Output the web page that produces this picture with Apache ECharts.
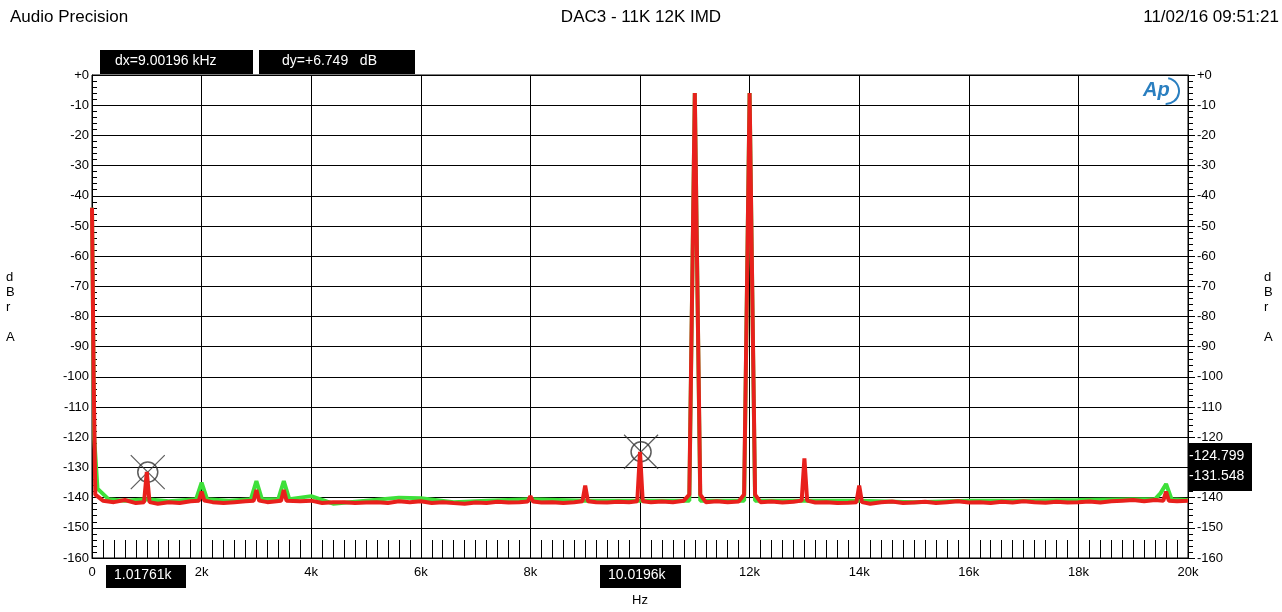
<!DOCTYPE html>
<html>
<head>
<meta charset="utf-8">
<script src="https://cdn.jsdelivr.net/npm/echarts@6/dist/echarts.min.js"></script>
<style>
    html, body { margin: 0; padding: 0; background: #fff; }
    #app { width: 1282px; height: 612px; }
</style>
</head>
<body>
<div id="app"></div>
<script>
// 频率 (kHz) 与电平 (dBr A) —— 红色通道
const redFreq = [0, 0.03, 0.06, 0.2, 0.4, 0.6, 0.8, 0.95, 1.0, 1.05, 1.2, 1.4, 1.6, 1.8, 1.95, 2.0, 2.05, 2.2, 2.4, 2.6, 2.8, 2.95, 3.0, 3.05, 3.2, 3.45, 3.5, 3.55, 3.8, 4.0, 4.2, 4.4, 4.6, 4.8, 5.0, 5.2, 5.4, 5.6, 5.8, 6.0, 6.2, 6.4, 6.6, 6.8, 7.0, 7.2, 7.4, 7.6, 7.8, 7.95, 8.0, 8.05, 8.2, 8.4, 8.6, 8.8, 8.95, 9.0, 9.05, 9.2, 9.4, 9.6, 9.8, 9.95, 10.0, 10.05, 10.2, 10.4, 10.6, 10.8, 10.9, 10.96, 11.0, 11.04, 11.1, 11.2, 11.4, 11.6, 11.8, 11.9, 11.96, 12.0, 12.04, 12.1, 12.2, 12.4, 12.6, 12.8, 12.95, 13.0, 13.05, 13.2, 13.4, 13.6, 13.8, 13.95, 14.0, 14.05, 14.2, 14.4, 14.6, 14.8, 15.0, 15.2, 15.4, 15.6, 15.8, 16.0, 16.2, 16.4, 16.6, 16.8, 17.0, 17.2, 17.4, 17.6, 17.8, 18.0, 18.2, 18.4, 18.6, 18.8, 19.0, 19.2, 19.4, 19.55, 19.6, 19.65, 19.8, 20.0];
const redLevel = [-44, -100, -139, -141, -141.5, -140.8, -141.8, -141.5, -131.5, -141.5, -142, -141.5, -141.8, -141.2, -141, -138, -141, -141.5, -141.8, -141.5, -141.2, -141, -137.5, -141, -141.5, -141, -137.5, -141, -141.2, -141, -141.8, -141.5, -141.5, -141.8, -141.6, -141.5, -141.8, -141.2, -141.5, -141.2, -141.8, -141.5, -141.8, -142, -141.6, -141.8, -141.4, -141.6, -141.5, -141.3, -139.5, -141.3, -141.6, -141.5, -141.8, -141.5, -141.2, -136, -141.2, -141.5, -141.6, -141.4, -141.5, -141.2, -124.8, -141.2, -141.5, -141.3, -141.5, -141, -139, -60, -6, -60, -139, -141.5, -141.2, -141.5, -141.3, -139, -60, -6, -60, -139, -141.5, -141.3, -141.6, -141.4, -141, -127, -141, -141.6, -141.5, -141.8, -141.7, -141.5, -136, -141.5, -142, -141.5, -141.3, -141.8, -141.6, -141.4, -141.8, -141.5, -141.2, -141.6, -141.5, -141.8, -141.4, -141.6, -141.2, -141.5, -141.7, -141.4, -141.6, -141.5, -141.3, -141.6, -141.2, -141, -140.8, -141.2, -140.8, -141, -138, -141, -141.2, -141];
// 绿色通道
const greenFreq = [0, 0.04, 0.1, 0.3, 0.6, 1.0, 1.4, 1.9, 2.0, 2.1, 2.5, 2.9, 3.0, 3.1, 3.4, 3.5, 3.6, 4.0, 4.4, 5.0, 5.6, 6.0, 6.6, 7.2, 8.0, 9.0, 10.0, 10.9, 11.0, 11.1, 11.9, 12.0, 12.1, 13.0, 14.0, 15.0, 16.0, 17.0, 18.0, 19.0, 19.4, 19.5, 19.6, 19.7, 20.0];
const greenLevel = [-44, -120, -137, -140.5, -141, -140.5, -141.2, -140.5, -135, -140.5, -141, -140.5, -134.5, -140.5, -140.5, -134.5, -140.5, -139.5, -142, -141, -140, -140.2, -141.5, -141, -140.5, -141, -141, -141, -6, -141, -141, -6, -141, -141, -141, -141.5, -141, -141, -140.8, -140.5, -140.5, -138.5, -135.5, -140.5, -140.8];
// 光标
const cursorFreq = [1.01761, 10.0196];
const cursorLevel = [-131.548, -124.799];

let draw = () => {
    let myChart = echarts.init(document.querySelector("#app"));
    let toPairs = (xs, ys) => xs.map((x, i) => [x, ys[i]]);
    let yLabel = v => (v === 0 ? "+0" : String(v));
    let font = "Liberation Sans, Arial, sans-serif";
    let yAxisBase = {
        type: "value", min: -160, max: 0, interval: 10,
        axisLine: { show: true, lineStyle: { color: "#000" } },
        axisTick: { show: true, inside: true, length: 7, lineStyle: { color: "#000" } },
        minorTick: { show: true, splitNumber: 5, length: 5, lineStyle: { color: "#000" } },
        axisLabel: { formatter: yLabel, color: "#000", fontSize: 13, fontFamily: font, margin: 3 }
    };
    myChart.setOption({
        animation: false,
        textStyle: { fontFamily: font },
        grid: { left: 92, right: 94, top: 75, bottom: 50, show: true, borderColor: "#000", borderWidth: 1 },
        xAxis: {
            type: "value", min: 0, max: 20, interval: 2,
            axisLine: { show: true, onZero: false, lineStyle: { color: "#000" } },
            axisTick: { show: true, inside: true, length: 18, lineStyle: { color: "#000" } },
            minorTick: { show: true, splitNumber: 10, length: 18, lineStyle: { color: "#000" } },
            splitLine: { show: true, lineStyle: { color: "#000", width: 1 } },
            axisLabel: { formatter: v => (v === 0 ? "0" : v + "k"), color: "#000", fontSize: 13, margin: 8 },
            name: "Hz", nameLocation: "middle", nameGap: 36, nameTextStyle: { color: "#000", fontSize: 13 }
        },
        yAxis: [
            Object.assign({}, yAxisBase, {
                position: "left",
                splitLine: { show: true, lineStyle: { color: "#000", width: 1 } }
            }),
            Object.assign({}, yAxisBase, {
                position: "right",
                splitLine: { show: false },
                axisTick: { show: true, inside: false, length: 7, lineStyle: { color: "#000" } },
                minorTick: { show: true, splitNumber: 5, length: 5, lineStyle: { color: "#000" } },
                axisLabel: { formatter: yLabel, color: "#000", fontSize: 13, fontFamily: font, margin: 9 }
            })
        ],
        series: [
            {
                name: "green", type: "line", showSymbol: false,
                data: toPairs(greenFreq, greenLevel),
                lineStyle: { color: "#3ee03a", width: 4 }
            },
            {
                name: "red", type: "line", showSymbol: false,
                data: toPairs(redFreq, redLevel),
                lineStyle: { color: "#e8201c", width: 4 }
            },
            {
                name: "cursor", type: "scatter", symbol: "circle", symbolSize: 20,
                data: toPairs(cursorFreq, cursorLevel),
                itemStyle: { color: "rgba(0,0,0,0)", borderColor: "#333", borderWidth: 1.5 }
            },
            {
                name: "cursorX", type: "scatter", symbol: "path://M0,0L10,10M10,0L0,10", symbolSize: 34,
                data: toPairs(cursorFreq, cursorLevel),
                itemStyle: { color: "rgba(0,0,0,0)", borderColor: "#333", borderWidth: 1.2 }
            }
        ],
        graphic: { elements: [
            { type: "text", left: 10, top: 9, style: { text: "Audio Precision", fontSize: 17, fill: "#000", fontFamily: font } },
            { type: "text", left: "center", top: 9, style: { text: "DAC3 - 11K 12K IMD", fontSize: 17, fill: "#000", fontFamily: font } },
            { type: "text", right: 3, top: 9, style: { text: "11/02/16 09:51:21", fontSize: 17, fill: "#000", fontFamily: font } },
            { type: "rect", z: 100, shape: { x: 100, y: 50, width: 153, height: 24 }, style: { fill: "#000" } },
            { type: "text", z: 101, left: 115, top: 54, style: { text: "dx=9.00196 kHz", fontSize: 14, fill: "#fff", fontFamily: font } },
            { type: "rect", z: 100, shape: { x: 259, y: 50, width: 156, height: 24 }, style: { fill: "#000" } },
            { type: "text", z: 101, left: 282, top: 54, style: { text: "dy=+6.749   dB", fontSize: 14, fill: "#fff", fontFamily: font } },
            { type: "rect", z: 100, shape: { x: 106, y: 565, width: 80, height: 23 }, style: { fill: "#000" } },
            { type: "text", z: 101, left: 114, top: 568, style: { text: "1.01761k", fontSize: 14, fill: "#fff", fontFamily: font } },
            { type: "rect", z: 100, shape: { x: 600, y: 565, width: 81, height: 23 }, style: { fill: "#000" } },
            { type: "text", z: 101, left: 608, top: 568, style: { text: "10.0196k", fontSize: 14, fill: "#fff", fontFamily: font } },
            { type: "rect", z: 100, shape: { x: 1188, y: 443, width: 64, height: 48 }, style: { fill: "#000" } },
            { type: "text", z: 101, left: 1189, top: 446, style: { text: "-124.799\n-131.548", fontSize: 14, lineHeight: 20, fill: "#fff", fontFamily: font, align: "left" } },
            { type: "text", left: 6, top: 270, style: { text: "d\nB\nr\n\nA", fontSize: 13, lineHeight: 15, fill: "#000", fontFamily: font } },
            { type: "text", left: 1264, top: 270, style: { text: "d\nB\nr\n\nA", fontSize: 13, lineHeight: 15, fill: "#000", fontFamily: font } },
            { type: "text", left: 1143, top: 80, style: { text: "Ap", fontSize: 20, fontStyle: "italic", fontWeight: "bold", fill: "#2a7fc0", fontFamily: font } },
            { type: "arc", shape: { cx: 1166, cy: 91, r: 13, startAngle: -1.4, endAngle: 1.6 }, style: { stroke: "#2a7fc0", lineWidth: 2, fill: null } }
        ] }
    });
};
draw();
</script>
</body>
</html>
